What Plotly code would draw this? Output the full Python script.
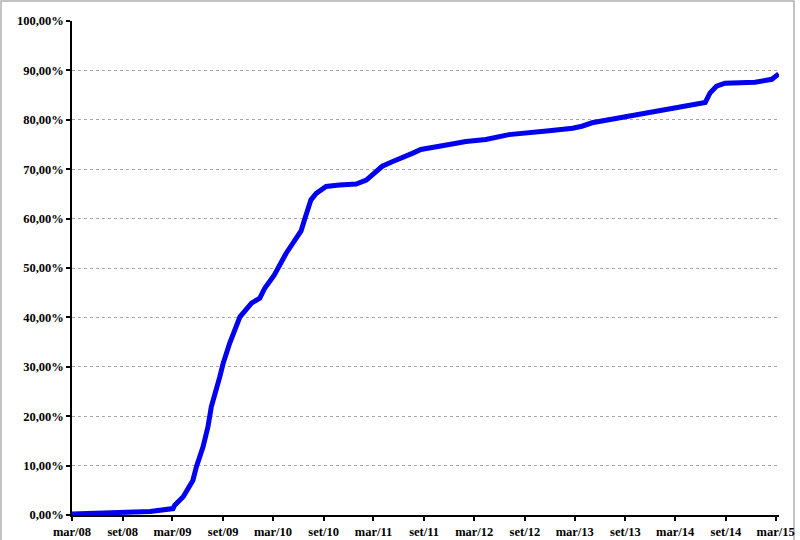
import plotly.graph_objects as go

dates = [
    "2008-03-01", "2008-07-16", "2008-12-10", "2009-03-03", "2009-03-09",
    "2009-04-09", "2009-05-14", "2009-05-27", "2009-06-20", "2009-07-08",
    "2009-07-20", "2009-08-20", "2009-09-01", "2009-09-25", "2009-11-01",
    "2009-12-13", "2010-01-12", "2010-01-30", "2010-03-06", "2010-04-18",
    "2010-05-17", "2010-06-11", "2010-06-25", "2010-07-17", "2010-08-05",
    "2010-09-10", "2010-10-28", "2010-12-28", "2011-02-03", "2011-03-03",
    "2011-04-02", "2011-05-08", "2011-06-14", "2011-07-20", "2011-08-20",
    "2011-10-13", "2011-12-01", "2012-01-31", "2012-04-12", "2012-07-05",
    "2012-09-16", "2012-11-28", "2013-02-21", "2013-03-27", "2013-05-03",
    "2013-07-02", "2013-09-13", "2013-11-13", "2014-02-28", "2014-04-18",
    "2014-06-18", "2014-07-05", "2014-07-29", "2014-08-29", "2014-12-16",
    "2015-02-15", "2015-03-12",
]
values = [
    0.2, 0.4, 0.7, 1.3, 2.0,
    3.7, 7.0, 9.8, 13.8, 17.9,
    21.9, 28.0, 30.7, 34.8, 40.1,
    42.9, 43.9, 45.9, 48.6, 53.0,
    55.5, 57.5, 60.0, 63.8, 65.1,
    66.5, 66.8, 67.0, 67.8, 69.2,
    70.6, 71.5, 72.5, 73.2, 74.0,
    74.4, 75.0, 75.6, 76.0, 77.0,
    77.5, 77.8, 78.3, 78.7, 79.4,
    80.0, 80.5, 81.2, 82.3, 82.8,
    83.5, 85.4, 86.8, 87.4, 87.6,
    88.2, 89.3,
]

x_tickvals = [
    "2008-03-01", "2008-09-01", "2009-03-01", "2009-09-01", "2010-03-01",
    "2010-09-01", "2011-03-01", "2011-09-01", "2012-03-01", "2012-09-01",
    "2013-03-01", "2013-09-01", "2014-03-01", "2014-09-01", "2015-03-01",
]
x_ticktext = [
    "mar/08", "set/08", "mar/09", "set/09", "mar/10",
    "set/10", "mar/11", "set/11", "mar/12", "set/12",
    "mar/13", "set/13", "mar/14", "set/14", "mar/15",
]
y_tickvals = [0, 10, 20, 30, 40, 50, 60, 70, 80, 90, 100]
y_ticktext = ["0,00%", "10,00%", "20,00%", "30,00%", "40,00%", "50,00%",
              "60,00%", "70,00%", "80,00%", "90,00%", "100,00%"]

tick_font = dict(family="Liberation Serif", size=12.5, color="black", weight="bold")

fig = go.Figure()
fig.add_trace(go.Scatter(
    x=dates, y=values, mode="lines",
    line=dict(color="#0000ee", width=5),
    showlegend=False, hoverinfo="skip",
))

fig.update_layout(
    width=800, height=540,
    margin=dict(l=72, r=21, t=21, b=25, autoexpand=False),
    paper_bgcolor="white", plot_bgcolor="white",
    font=dict(family="Liberation Serif", size=12.5, color="black"),
    xaxis=dict(
        type="date",
        range=["2008-03-01", "2015-03-13"],
        tickmode="array", tickvals=x_tickvals, ticktext=x_ticktext,
        tickfont=tick_font,
        showline=True, linecolor="black", linewidth=1.5,
        ticks="outside", ticklen=4, tickcolor="black", tickwidth=1.5,
        showgrid=False, zeroline=False, automargin=False,
        tickangle=0,
    ),
    yaxis=dict(
        range=[0, 100],
        tickmode="array", tickvals=y_tickvals, ticktext=y_ticktext,
        tickfont=tick_font,
        showline=True, linecolor="black", linewidth=1.5,
        ticks="outside", ticklen=4, tickcolor="black", tickwidth=1.5,
        showgrid=True, gridcolor="#a8a8a8", gridwidth=1, griddash="dot",
        zeroline=False, automargin=False,
    ),
    shapes=[dict(
        type="rect", xref="paper", yref="paper",
        x0=-0.1004, x1=1.0212, y0=-0.08, y1=1.0405,
        line=dict(color="#b0b0b0", width=1.5), fillcolor="rgba(0,0,0,0)",
        layer="below",
    )],
)

fig.write_html("out.html", config={"displayModeBar": False},
               post_script="document.body.style.margin='0';")
